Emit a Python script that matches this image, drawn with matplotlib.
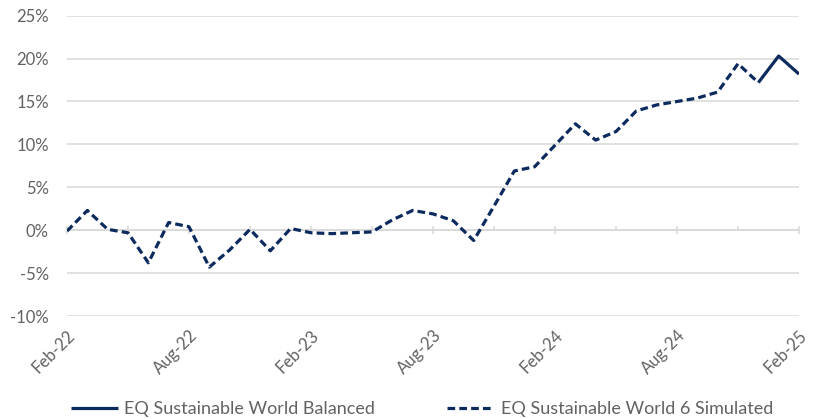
import matplotlib
matplotlib.use("Agg")
import matplotlib.pyplot as plt
import numpy as np
from matplotlib.ticker import FixedLocator, FuncFormatter

# ---- data ----
months = ["Feb-22", "Mar-22", "Apr-22", "May-22", "Jun-22", "Jul-22", "Aug-22", "Sep-22",
          "Oct-22", "Nov-22", "Dec-22", "Jan-23", "Feb-23", "Mar-23", "Apr-23", "May-23",
          "Jun-23", "Jul-23", "Aug-23", "Sep-23", "Oct-23", "Nov-23", "Dec-23", "Jan-24",
          "Feb-24", "Mar-24", "Apr-24", "May-24", "Jun-24", "Jul-24", "Aug-24", "Sep-24",
          "Oct-24", "Nov-24", "Dec-24", "Jan-25", "Feb-25"]
simulated = [-0.1, 2.3, 0.1, -0.3, -3.8, 0.9, 0.4, -4.3,
             -2.3, 0.1, -2.4, 0.2, -0.3, -0.4, -0.3, -0.2,
             1.2, 2.3, 1.9, 1.1, -1.2, 2.8, 6.9, 7.4,
             9.9, 12.4, 10.5, 11.5, 13.9, 14.6, 15.0, 15.4,
             16.1, 19.4, 17.2]
balanced_months = ["Dec-24", "Jan-25", "Feb-25"]
balanced = [17.2, 20.3, 18.2]
tick_labels = ["Feb-22", "Aug-22", "Feb-23", "Aug-23", "Feb-24", "Aug-24", "Feb-25"]
y_ticks = [-10, -5, 0, 5, 10, 15, 20, 25]

label_names = ["EQ Sustainable World Balanced", "EQ Sustainable World 6 Simulated"]

# ---- style ----
navy = "#0B2A5E"
grid_c = "#D9D9D9"
text_c = "#626262"
font = ["Lato", "DejaVu Sans"]
plt.rcParams["font.family"] = font

fig = plt.figure(figsize=(8.13, 4.19), dpi=100)
ax = fig.add_axes([67 / 813, 1 - 316 / 419, (799 - 67) / 813, (316 - 15.7) / 419])

x_sim = [months.index(m) for m in months[:len(simulated)]]
x_bal = [months.index(m) for m in balanced_months]

ax.plot(x_bal, balanced, color=navy, lw=2.3, solid_capstyle="butt", zorder=3,
        label=label_names[0])
ax.plot(x_sim, simulated, color=navy, lw=2.3, linestyle=(0, (2.4, 1.3)), zorder=3,
        label=label_names[1])

ax.set_xlim(0, len(months) - 1)
ax.set_ylim(min(y_ticks), max(y_ticks))
ax.set_yticks(y_ticks)
ax.yaxis.set_major_formatter(FuncFormatter(lambda v, p: f"{v:.0f}%"))
ax.set_xticks([months.index(m) for m in tick_labels])
ax.set_xticklabels(tick_labels, rotation=45, ha="right", va="top", rotation_mode="anchor")

ax.grid(axis="y", color=grid_c, lw=1.1)
ax.set_axisbelow(True)
for s in ax.spines.values():
    s.set_visible(False)
ax.tick_params(axis="both", length=0, colors=text_c, labelsize=12)
ax.tick_params(axis="y", pad=13)
ax.tick_params(axis="x", pad=8)

# horizontal axis line at 0 with tick marks
frac0 = (0 - min(y_ticks)) / (max(y_ticks) - min(y_ticks))
sec = ax.secondary_xaxis(frac0)
sec.spines["bottom"].set_color(grid_c)
sec.spines["bottom"].set_linewidth(1.1)
sec.set_xticks([months.index(m) for m in tick_labels])
sec.xaxis.set_minor_locator(FixedLocator(list(range(3, len(months), 6))))
sec.tick_params(axis="x", which="major", direction="inout", length=6, width=1.1,
                color=grid_c, labelbottom=False)
sec.tick_params(axis="x", which="minor", direction="in", length=3, width=1.1,
                color=grid_c, labelbottom=False)
sec.set_zorder(0.8)

leg = fig.legend(loc="lower center", ncol=2, frameon=False, fontsize=13,
                 bbox_to_anchor=(0.519, -0.035), handlelength=2.6, handletextpad=0.35,
                 columnspacing=4.0)
for t in leg.get_texts():
    t.set_color(text_c)

fig.savefig("out.png", dpi=100)
